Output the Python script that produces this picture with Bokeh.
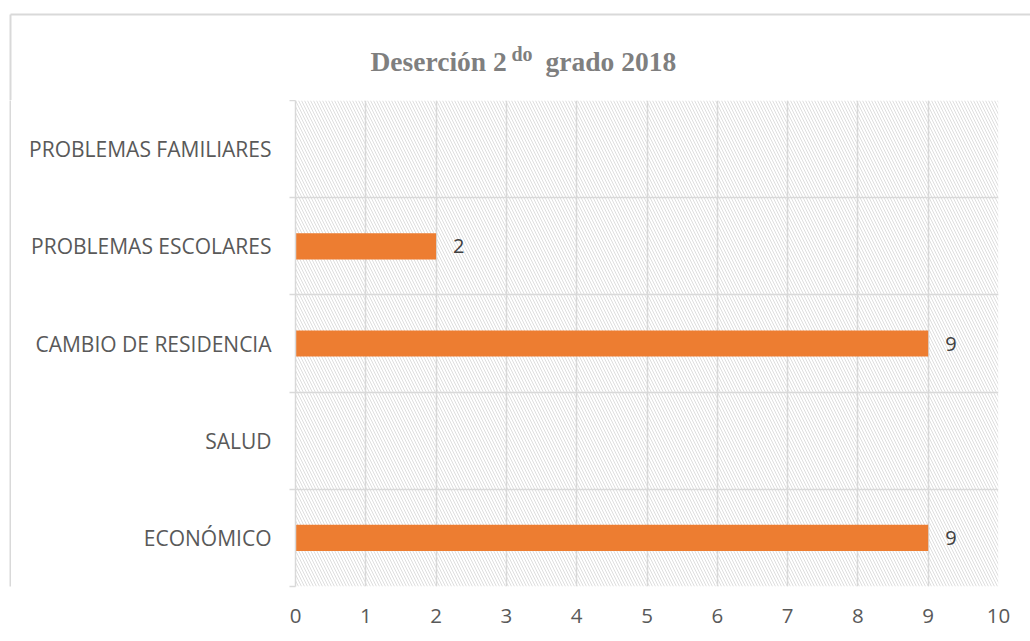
from bokeh.plotting import figure
from bokeh.models import FixedTicker, ColumnDataSource, Range1d
from bokeh.layouts import column, row
from bokeh.core.properties import value
from bokeh.embed import file_html
from bokeh.resources import INLINE

categories = ["ECONÓMICO", "SALUD", "CAMBIO DE RESIDENCIA", "PROBLEMAS ESCOLARES", "PROBLEMAS FAMILIARES"]
values = [9, 0, 9, 2, 0]
x_ticks = [0, 1, 2, 3, 4, 5, 6, 7, 8, 9, 10]
title_parts = ["Deserción 2", "do", "grado 2018"]

n = len(categories)
centers = [i + 0.5 for i in range(n)]
BORDER = "#d9d9d9"
W, H, TOP_H, STRIP_W = 1030, 641, 100, 11

# ---------- title strip (page pixels as coordinates) ----------
t = figure(width=W, height=TOP_H, output_backend="svg", toolbar_location=None,
           x_range=Range1d(0, W), y_range=Range1d(TOP_H, 0),
           min_border=0, x_axis_type=None, y_axis_type=None)
t.outline_line_color = None
t.xgrid.visible = False
t.ygrid.visible = False
t.background_fill_color = "white"
t.border_fill_color = "white"
# outer chart border (top and left edges)
t.segment(x0=[10, 10], y0=[14, 14], x1=[W + 5, 10], y1=[14, TOP_H + 5], line_color=BORDER, line_width=2)
tfont = value("Liberation Serif")
tcolor = "#7f7f7f"
t.text(x=[370, 545], y=[61, 61], text=[title_parts[0], title_parts[2]],
       text_font=tfont, text_font_style="bold", text_font_size="27.5px",
       text_color=tcolor, text_baseline="alphabetic", text_align="left")
t.text(x=[511], y=[53], text=[title_parts[1]],
       text_font=tfont, text_font_style="bold", text_font_size="20px",
       text_color=tcolor, text_baseline="alphabetic", text_align="left")

# ---------- left strip carrying the chart border ----------
s = figure(width=STRIP_W, height=H - TOP_H, output_backend="svg", toolbar_location=None,
           x_range=Range1d(0, STRIP_W), y_range=Range1d(0, H - TOP_H),
           min_border=0, x_axis_type=None, y_axis_type=None)
s.outline_line_color = None
s.xgrid.visible = False
s.ygrid.visible = False
s.background_fill_color = "white"
s.border_fill_color = "white"
s.segment(x0=[10], y0=[-10], x1=[10], y1=[H - TOP_H + 10], line_color=BORDER, line_width=2)

# ---------- chart ----------
p = figure(width=W - STRIP_W, height=H - TOP_H, output_backend="svg", toolbar_location=None,
           x_range=Range1d(0, 10), y_range=Range1d(0, n),
           min_border_left=295 - STRIP_W, min_border_right=32, min_border_top=0, min_border_bottom=55)
p.outline_line_color = None
p.background_fill_color = "white"
p.border_fill_color = "white"

# hatched plot area
bg = p.quad(left=[x_ticks[0]], right=[x_ticks[-1]], bottom=[0], top=[n],
            fill_color="white", line_color=None,
            hatch_pattern="\\", hatch_color="#dedede", hatch_scale=6, hatch_weight=1)
bg.level = "image"

# grid
p.xgrid.ticker = FixedTicker(ticks=x_ticks)
p.xgrid.grid_line_color = BORDER
p.xgrid.grid_line_width = 1.5
p.ygrid.ticker = FixedTicker(ticks=list(range(n + 1)))
p.ygrid.grid_line_color = BORDER
p.ygrid.grid_line_width = 1.5

# bars
src = ColumnDataSource(dict(y=centers, v=values))
p.hbar(y="y", right="v", left=0, height=0.27, source=src, fill_color="#ED7D31", line_color=None)

# data labels
lab_y = [c for c, v in zip(centers, values) if v > 0]
lab_v = [v for v in values if v > 0]
p.text(x=lab_v, y=lab_y, text=[str(v) for v in lab_v], x_offset=17,
       text_font=value("Open Sans"), text_font_size="20px", text_color="#404040",
       text_baseline="middle", text_align="left")

# y axis
ya = p.yaxis[0]
ya.ticker = FixedTicker(ticks=centers, minor_ticks=list(range(n + 1)))
ya.major_label_overrides = {c: cat for c, cat in zip(centers, categories)}
ya.major_tick_line_color = None
ya.minor_tick_out = 6
ya.minor_tick_in = 0
ya.minor_tick_line_color = BORDER
ya.minor_tick_line_width = 1.5
ya.axis_line_color = BORDER
ya.axis_line_width = 1.5
ya.major_label_text_font = "Open Sans"
ya.major_label_text_font_size = "21px"
ya.major_label_text_color = "#595959"
ya.major_label_standoff = 18

# x axis
xa = p.xaxis[0]
xa.ticker = FixedTicker(ticks=x_ticks)
xa.axis_line_color = None
xa.major_tick_line_color = None
xa.minor_tick_line_color = None
xa.major_label_text_font = "Open Sans"
xa.major_label_text_font_size = "20.5px"
xa.major_label_text_color = "#595959"
xa.major_label_standoff = 16

layout = column(t, row(s, p, spacing=0), spacing=0)
open("out.html", "w").write(file_html(layout, INLINE))
